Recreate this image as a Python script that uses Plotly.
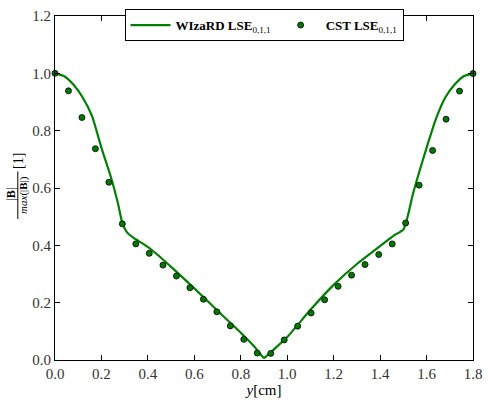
import plotly.graph_objects as go

# CST sample points
cst_y_pos = [0.000, 0.058, 0.116, 0.174, 0.232, 0.290, 0.348, 0.406, 0.465, 0.523,
             0.581, 0.639, 0.697, 0.755, 0.813, 0.871, 0.929, 0.987, 1.045, 1.103,
             1.161, 1.219, 1.277, 1.335, 1.394, 1.452, 1.510, 1.568, 1.626, 1.684,
             1.742, 1.800]
cst_vals = [1.000, 0.939, 0.846, 0.737, 0.620, 0.475, 0.405, 0.372, 0.331, 0.293,
            0.252, 0.212, 0.168, 0.119, 0.072, 0.024, 0.023, 0.070, 0.118, 0.164,
            0.210, 0.257, 0.296, 0.333, 0.368, 0.405, 0.478, 0.610, 0.731, 0.840,
            0.938, 0.999]

# WIzaRD curve
wiz_y_pos = [0.00, 0.04, 0.08, 0.12, 0.16, 0.20, 0.24, 0.27, 0.29, 0.31, 0.34, 0.38,
             0.42, 0.50, 0.60, 0.70, 0.80, 0.86, 0.89, 0.90, 0.91, 0.94, 1.00, 1.10,
             1.20, 1.30, 1.38, 1.42, 1.46, 1.50, 1.52, 1.54, 1.57, 1.60, 1.64, 1.68,
             1.72, 1.76, 1.80]
wiz_vals = [1.000, 0.990, 0.960, 0.915, 0.850, 0.740, 0.640, 0.550, 0.478, 0.445,
            0.425, 0.405, 0.382, 0.325, 0.250, 0.172, 0.095, 0.045, 0.015, 0.007,
            0.013, 0.035, 0.080, 0.175, 0.262, 0.335, 0.385, 0.410, 0.435, 0.455,
            0.505, 0.575, 0.660, 0.740, 0.840, 0.915, 0.960, 0.990, 1.000]

x_ticks = [0.0, 0.2, 0.4, 0.6, 0.8, 1.0, 1.2, 1.4, 1.6, 1.8]
y_ticks = [0.0, 0.2, 0.4, 0.6, 0.8, 1.0, 1.2]

FONT = "Liberation Serif"
GREEN = "#008000"

fig = go.Figure()
fig.add_trace(go.Scatter(
    x=wiz_y_pos, y=wiz_vals, mode="lines",
    line=dict(color=GREEN, width=2.2, shape="spline", smoothing=0.5),
    name="<b>WIzaRD LSE</b><sub>0,1,1</sub>", cliponaxis=False))
fig.add_trace(go.Scatter(
    x=cst_y_pos, y=cst_vals, mode="markers",
    marker=dict(color="#007a00", size=6, line=dict(color="black", width=0.8)),
    name="<b>CST LSE</b><sub>0,1,1</sub>", cliponaxis=False))

axis_common = dict(
    showgrid=False, zeroline=False, showline=True, linecolor="black", linewidth=1,
    mirror="ticks", ticks="inside", ticklen=5, tickcolor="black",
    ticklabeloverflow="allow",
    tickfont=dict(family=FONT, size=15, color="#333333"))

fig.update_layout(
    width=490, height=403,
    margin=dict(l=55, r=8, t=10, b=41),
    paper_bgcolor="white", plot_bgcolor="white",
    font=dict(family=FONT, color="black"),
    xaxis=dict(range=[0, 1.8], tickvals=x_ticks, ticktext=[f"{v:.1f}" for v in x_ticks],
               title=dict(text="<i>y</i>[cm]", font=dict(family=FONT, size=15), standoff=2),
               **axis_common),
    yaxis=dict(range=[0, 1.2], tickvals=y_ticks, ticktext=[f"{v:.1f}" for v in y_ticks],
               **axis_common),
    legend=dict(orientation="h", x=0.5, xanchor="center", y=1.02, yanchor="top",
                bordercolor="black", borderwidth=1, bgcolor="white",
                font=dict(family=FONT, size=13), itemwidth=40, tracegroupgap=0),
    showlegend=True,
)

# y-axis label as a rotated fraction
fig.add_annotation(xref="paper", yref="paper", x=-0.106, y=0.483, text="|<b>B</b>|",
                   textangle=-90, showarrow=False, font=dict(family=FONT, size=12),
                   xanchor="center", yanchor="middle")
fig.add_annotation(xref="paper", yref="paper", x=-0.074, y=0.48, text="<i>max</i>(|<b>B</b>|)",
                   textangle=-90, showarrow=False, font=dict(family=FONT, size=11),
                   xanchor="center", yanchor="middle")
fig.add_annotation(xref="paper", yref="paper", x=-0.089, y=0.578, text="[1]",
                   textangle=-90, showarrow=False, font=dict(family=FONT, size=14),
                   xanchor="center", yanchor="middle")
fig.add_shape(type="line", xref="paper", yref="paper", x0=-0.089, x1=-0.089, y0=0.41, y1=0.548,
              line=dict(color="black", width=1))

fig.write_html("out.html")
